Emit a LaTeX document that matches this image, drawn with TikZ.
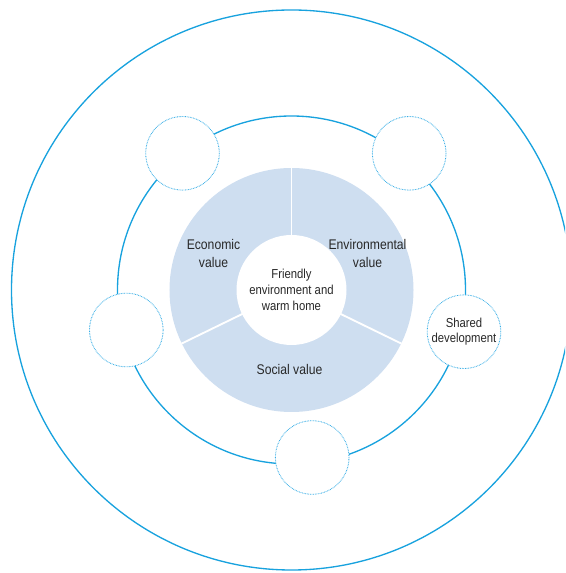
\documentclass[tikz,border=0pt]{standalone}
\usepackage{fontspec}
\setmainfont{Liberation Sans}[FakeStretch=0.87]
\usepackage{tikz}

\definecolor{ringblue}{RGB}{24,162,222}
\definecolor{dotblue}{RGB}{56,174,230}
\definecolor{valuefill}{RGB}{206,222,240}
\definecolor{labelgray}{RGB}{40,40,40}

\tikzset{
    ring/.style={draw=ringblue, line width=1pt},
    hub/.style={circle, fill=white, minimum size=82.5pt, inner sep=0pt,
        text=labelgray, align=center, font=\fontsize{9.75}{11.8}\selectfont},
    bubble/.style={circle, draw=dotblue, fill=white, line width=0.65pt,
        dash pattern=on 0.55pt off 0.65pt, minimum size=55.2pt, inner sep=0pt,
        text=labelgray, align=center, font=\fontsize{9.75}{11.8}\selectfont},
    valuelabel/.style={text=labelgray, align=center,
        font=\fontsize{10.5}{13.7}\selectfont}
}

\begin{document}
\begin{tikzpicture}[x=0.75pt, y=0.75pt]
    \clip (-291.5, -283) rectangle (273.5, 290);

    % rings
    \draw[ring] (0, 0) circle (280);
    \draw[ring] (0, 0) circle (174);

    % value ring and its three parts
    \fill[valuefill] (0, 0) circle (122);
    \foreach \a in {90, -26, 206} {
        \draw[white, line width=1.4pt] (0, 0) -- (\a:122.5);
    }
    \node[hub] (hub) at (0, 0) {Friendly\\environment and\\warm home};

    \node[valuelabel] (economic) at (-78, 36.5) {Economic\\value};
    \node[valuelabel] (environmental) at (76, 36.5) {Environmental\\value};
    \node[valuelabel] (social) at (-2, -79.5) {Social value};

    % bubbles on the middle ring
    \node[bubble] (topleft) at (-109, 136.7) {};
    \node[bubble] (topright) at (117.7, 136.7) {};
    \node[bubble] (left) at (-165.2, -40) {};
    \node[bubble] (shared) at (172.5, -41.7) {Shared\\development};
    \node[bubble] (bottom) at (20.7, -167.5) {};
\end{tikzpicture}
\end{document}
